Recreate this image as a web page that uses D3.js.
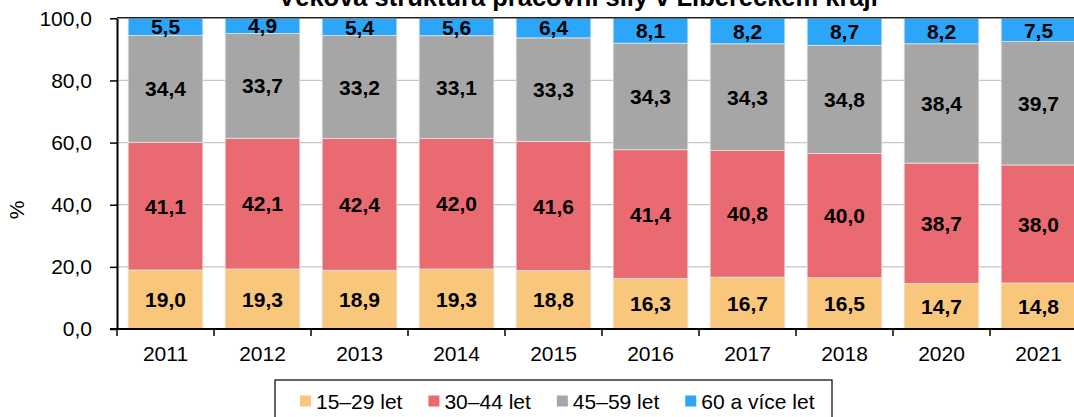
<!DOCTYPE html>
<html>
<head>
<meta charset="utf-8">
<script src="https://d3js.org/d3.v7.min.js"></script>
<style>
  body { margin: 0; background: #fff; }
  svg { display: block; font-family: "Liberation Sans", Arial, sans-serif; }
</style>
</head>
<body>
<svg width="1074" height="417"></svg>
<script>
const years = ["2011", "2012", "2013", "2014", "2015", "2016", "2017", "2018", "2020", "2021"];
const v1529 = [19.0, 19.3, 18.9, 19.3, 18.8, 16.3, 16.7, 16.5, 14.7, 14.8];
const v3044 = [41.1, 42.1, 42.4, 42.0, 41.6, 41.4, 40.8, 40.0, 38.7, 38.0];
const v4559 = [34.4, 33.7, 33.2, 33.1, 33.3, 34.3, 34.3, 34.8, 38.4, 39.7];
const v60 = [5.5, 4.9, 5.4, 5.6, 6.4, 8.1, 8.2, 8.7, 8.2, 7.5];
const seriesNames = ["15–29 let", "30–44 let", "45–59 let", "60 a více let"];
const colors = ["#F9C77C", "#E96A71", "#A6A6A6", "#2BA6F8"];
const yTicks = [0, 20, 40, 60, 80, 100];
const title = "Věková struktura pracovní síly v Libereckém kraji";

const svg = d3.select("svg");
const plotLeft = 117, plotTop = 18.3, plotBottom = 329;
const fmt = function(d){ return d3.format(".1f")(d).replace(".", ","); };

const rows = years.map(function(yr, i){
  return { year: yr, s0: v1529[i], s1: v3044[i], s2: v4559[i], s3: v60[i] };
});
const stacked = d3.stack().keys(["s0", "s1", "s2", "s3"])(rows);

const x = d3.scaleBand().domain(years).range([plotLeft, plotLeft + 970]);
const xb = d3.scaleBand().domain(years).range([plotLeft, plotLeft + 970]).paddingInner(0.23).paddingOuter(0.115);
const y = d3.scaleLinear().domain([0, 100]).range([plotBottom, plotTop]);

// title
svg.append("text")
  .attr("x", 578).attr("y", 6)
  .attr("text-anchor", "middle")
  .style("font-weight", "bold").style("font-size", "25.5px")
  .text(title);

// gridlines
svg.append("g").selectAll("line").data(yTicks.filter(function(d){ return d > 0 && d < 100; }))
  .enter().append("line")
  .attr("x1", plotLeft).attr("x2", 1074)
  .attr("y1", function(d){ return y(d); }).attr("y2", function(d){ return y(d); })
  .attr("stroke", "#c6c6c6").attr("stroke-width", 1.2);

// bars
const layer = svg.append("g").selectAll("g").data(stacked).enter().append("g")
  .attr("fill", function(d, i){ return colors[i]; });
layer.selectAll("rect").data(function(d){ return d; }).enter().append("rect")
  .attr("x", function(d){ return xb(d.data.year); })
  .attr("width", xb.bandwidth())
  .attr("y", function(d){ return y(d[1]); })
  .attr("height", function(d){ return y(d[0]) - y(d[1]); })
  .attr("stroke", "#e4e4e4").attr("stroke-width", 0.8);

// value labels
layer.selectAll("text").data(function(d){ return d; }).enter().append("text")
  .attr("x", function(d){ return xb(d.data.year) + xb.bandwidth() / 2; })
  .attr("y", function(d){ return (y(d[0]) + y(d[1])) / 2; })
  .attr("dy", "0.36em")
  .attr("text-anchor", "middle")
  .attr("fill", "#000")
  .style("font-weight", "bold").style("font-size", "21px")
  .text(function(d){ return fmt(d[1] - d[0]); });

// top border
svg.append("line")
  .attr("x1", plotLeft).attr("x2", 1074)
  .attr("y1", y(100) - 0.6).attr("y2", y(100) - 0.6)
  .attr("stroke", "#222").attr("stroke-width", 1.5);

// y axis
const yAxis = svg.append("g")
  .attr("transform", "translate(" + plotLeft + ",0)")
  .call(d3.axisLeft(y).tickValues(yTicks).tickFormat(fmt).tickSize(7).tickSizeOuter(0).tickPadding(18));
yAxis.select(".domain").attr("stroke", "#000").attr("stroke-width", 2);
yAxis.selectAll(".tick line").attr("stroke", "#000").attr("stroke-width", 1.5);
yAxis.selectAll(".tick text").style("font-size", "21px").attr("fill", "#000")
  .style("font-family", "'Liberation Sans', Arial, sans-serif");

svg.append("text")
  .attr("transform", "translate(17,210) rotate(-90)")
  .attr("text-anchor", "middle").attr("dy", "0.35em")
  .style("font-size", "21px")
  .text("%");

// x axis
svg.append("line")
  .attr("x1", plotLeft - 7).attr("x2", 1074)
  .attr("y1", plotBottom).attr("y2", plotBottom)
  .attr("stroke", "#000").attr("stroke-width", 2);
svg.append("g").selectAll("line").data(years).enter().append("line")
  .attr("x1", function(d){ return x(d); }).attr("x2", function(d){ return x(d); })
  .attr("y1", plotBottom).attr("y2", plotBottom + 7)
  .attr("stroke", "#000").attr("stroke-width", 1.5);
svg.append("g").selectAll("text").data(years).enter().append("text")
  .attr("x", function(d){ return x(d) + x.bandwidth() / 2; })
  .attr("y", 361)
  .attr("text-anchor", "middle")
  .style("font-size", "21px")
  .text(function(d){ return d; });

// legend
svg.append("rect")
  .attr("x", 275).attr("y", 380).attr("width", 557).attr("height", 60)
  .attr("fill", "#fff").attr("stroke", "#000").attr("stroke-width", 1.2);
let lx = 300;
seriesNames.forEach(function(name, i){
  svg.append("rect")
    .attr("x", lx).attr("y", 395.5).attr("width", 11).attr("height", 11)
    .attr("fill", colors[i]);
  const t = svg.append("text")
    .attr("x", lx + 16).attr("y", 408.5)
    .style("font-size", "21px")
    .text(name);
  lx += 16 + t.node().getComputedTextLength() + 26;
});
</script>
</body>
</html>
